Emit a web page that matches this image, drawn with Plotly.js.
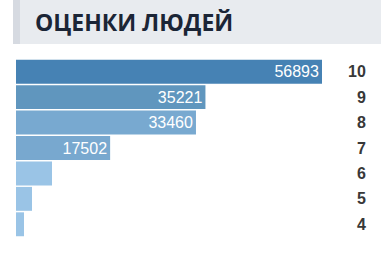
<!DOCTYPE html>
<html>
<head>
<meta charset="utf-8">
<script src="https://cdn.plot.ly/plotly-3.0.1.min.js"></script>
<style>html,body{margin:0;padding:0;background:#fff;}#chart{width:381px;height:280px;}</style>
</head>
<body>
<div id="chart"></div>
<script>
const titleText = "ОЦЕНКИ ЛЮДЕЙ";
const ratings = ["10", "9", "8", "7", "6", "5", "4"];
const counts = [56893, 35221, 33460, 17502, 6693, 2975, 1487];
const barColors = ["#4682b4", "#6096be", "#78a9d0", "#78a8cf", "#9ac4e6", "#9ac4e6", "#9ac4e6"];

const labelMin = 10000;
const trace = {
  type: "bar",
  orientation: "h",
  y: ratings,
  x: counts,
  marker: {color: barColors},
  text: counts.map(v => v >= labelMin ? String(v) : ""),
  textposition: "inside",
  insidetextanchor: "end",
  textangle: 0,
  constraintext: "none",
  insidetextfont: {family: "Liberation Sans, Arial, sans-serif", size: 16, color: "#ffffff"},
  hoverinfo: "none"
};

const annotations = ratings.map((r, i) => ({
  xref: "paper", yref: "y", x: 1, y: i,
  xanchor: "right", yanchor: "middle", xshift: 46,
  text: "<b>" + r + "</b>", showarrow: false,
  font: {family: "Liberation Sans, Arial, sans-serif", size: 16, color: "#383838"}
}));

const layout = {
  width: 381, height: 280,
  margin: {l: 16, r: 59, t: 59, b: 43, pad: 0},
  paper_bgcolor: "#ffffff", plot_bgcolor: "#ffffff",
  showlegend: false,
  bargap: 0.06,
  xaxis: {range: [0, 56893], visible: false, fixedrange: true},
  yaxis: {range: [ratings.length - 0.5, -0.5], type: "category", visible: false, fixedrange: true},
  title: {
    text: "<b>" + titleText + "</b>",
    xref: "container", yref: "container",
    x: 35 / 381, xanchor: "left", y: 1 - 23 / 280, yanchor: "middle",
    font: {family: "Open Sans, Noto Sans, sans-serif", size: 23, color: "#1b2536"}
  },
  shapes: [
    {type: "rect", xref: "paper", yref: "paper", x0: -3/306, x1: 365/306, y0: (237-44)/178, y1: 237/178,
     fillcolor: "#e8ebef", line: {width: 0}, layer: "below"},
    {type: "rect", xref: "paper", yref: "paper", x0: -3/306, x1: 4/306, y0: (237-44)/178, y1: 237/178,
     fillcolor: "#d6dae1", line: {width: 0}, layer: "below"}
  ],
  annotations: annotations
};

Plotly.newPlot("chart", [trace], layout, {displayModeBar: false, staticPlot: true});
</script>
</body>
</html>
